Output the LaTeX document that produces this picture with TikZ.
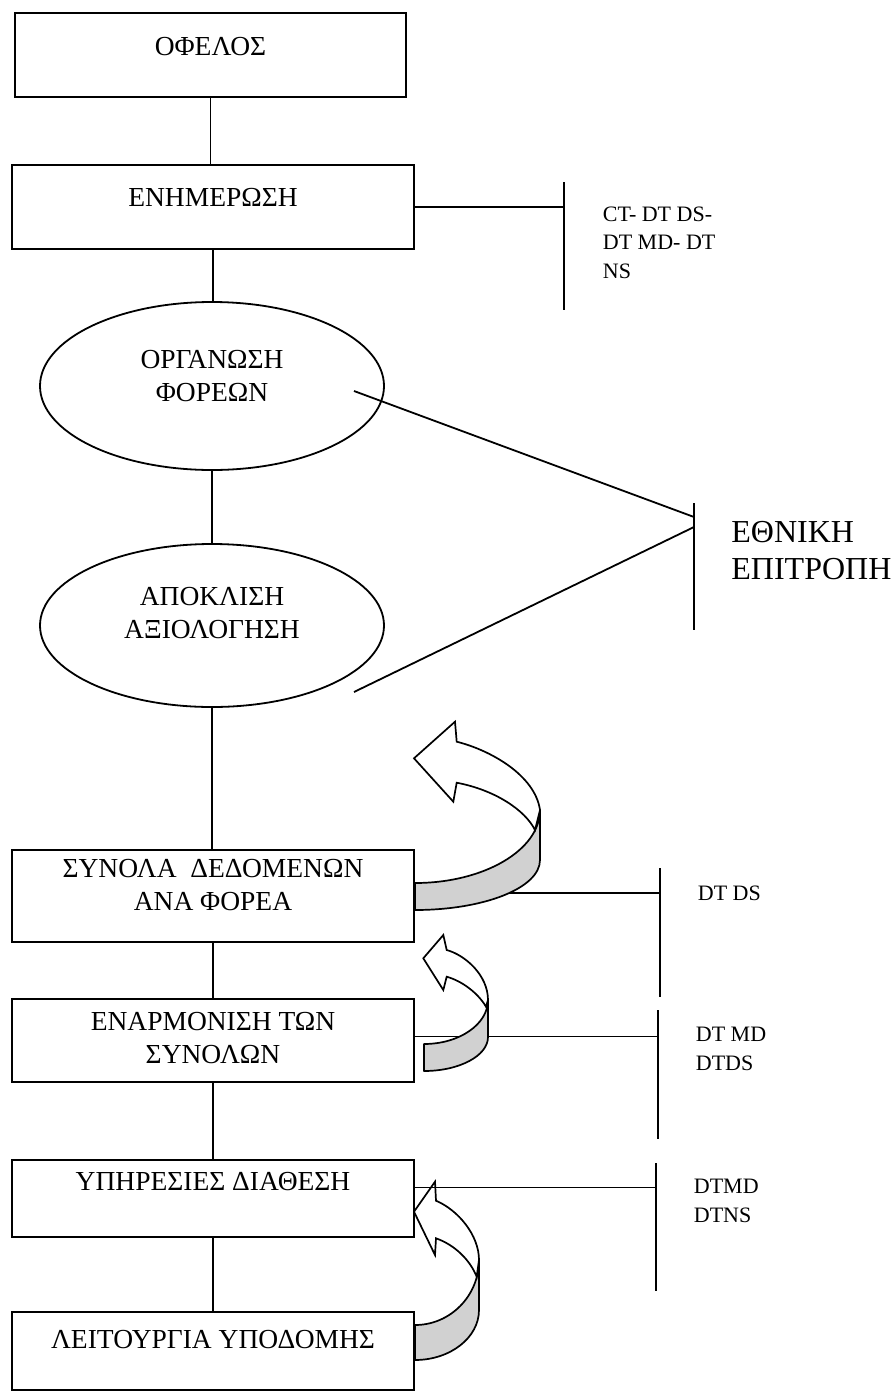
\documentclass[tikz,border=0pt]{standalone}
\usepackage{fontspec}
\setmainfont{Liberation Serif}
\usetikzlibrary{shapes.geometric}
\begin{document}
\begin{tikzpicture}[x=1pt,y=-1pt,
  line width=1.8pt,
  frame/.style={draw, rectangle, inner sep=0pt, minimum width=402},
  oval/.style={draw, ellipse, inner sep=0pt, minimum width=344},
  big/.style={font=\fontsize{27.5}{33}\selectfont, align=center, inner sep=0pt},
  small/.style={font=\fontsize{22}{28.5}\selectfont, align=left, inner sep=0pt, anchor=west},
  large/.style={font=\fontsize{32}{37}\selectfont, align=left, inner sep=0pt, anchor=west},
  band/.style={draw, fill=black!18, line width=1.7pt, line join=round},
  head/.style={draw, fill=white, line width=1.7pt, line join=miter}]
\useasboundingbox (0,0) rectangle (895,1392);

% main column
\node[frame, minimum width=391, minimum height=84] (b1) at (210.5,55) {};
\node[frame, minimum height=84] (b2) at (213,207) {};
\node[oval, minimum height=168] (e1) at (212,386) {};
\node[oval, minimum height=163] (e2) at (212,625.5) {};
\node[frame, minimum height=92] (b3) at (213,896) {};
\node[frame, minimum height=83] (b4) at (213,1040.5) {};
\node[frame, minimum height=77] (b5) at (213,1198.5) {};
\node[frame, minimum height=78] (b6) at (213,1351) {};

\node[big] (t1) at (210.5,47) {ΟΦΕΛΟΣ};
\node[big] (t2) at (213,197) {ΕΝΗΜΕΡΩΣΗ};
\node[big] (t3) at (212,376) {ΟΡΓΑΝΩΣΗ\\ΦΟΡΕΩΝ};
\node[big] (t4) at (212,613.5) {ΑΠΟΚΛΙΣΗ\\ΑΞΙΟΛΟΓΗΣΗ};
\node[big] (t5) at (213,885) {ΣΥΝΟΛΑ \ ΔΕΔΟΜΕΝΩΝ\\ΑΝΑ ΦΟΡΕΑ};
\node[big] (t6) at (213,1038) {ΕΝΑΡΜΟΝΙΣΗ ΤΩΝ\\ΣΥΝΟΛΩΝ};
\node[big] (t7) at (213,1182) {ΥΠΗΡΕΣΙΕΣ ΔΙΑΘΕΣΗ};
\node[big] (t8) at (213,1340) {ΛΕΙΤΟΥΡΓΙΑ ΥΠΟΔΟΜΗΣ};

\draw (b1.south) -- (b1.south |- b2.north);
\draw (b2.south) -- (b2.south |- e1.north);
\draw (e1.south) -- (e1.south |- e2.north);
\draw (e2.south) -- (e2.south |- b3.north);
\draw (b3.south) -- (b3.south |- b4.north);
\draw (b4.south) -- (b4.south |- b5.north);
\draw (b5.south) -- (b5.south |- b6.north);

% side brackets and their labels
\coordinate (r1) at (564,207);
\coordinate (r1t) at (564,182);
\coordinate (r1b) at (564,310);
\draw (b2.east) -- (r1);
\draw (r1t) -- (r1b);
\node[small] (l1) at (602,242.5) {CT- DT DS-\\DT MD- DT\\NS};

\coordinate (p1) at (354,391);
\coordinate (p2) at (354,692);
\coordinate (q1) at (694,517);
\coordinate (q2) at (694,527);
\coordinate (qt) at (694,503);
\coordinate (qb) at (694,630);
\draw (p1) -- (q1);
\draw (p2) -- (q2);
\draw (qt) -- (qb);
\node[large] (l2) at (730.5,550.5) {ΕΘΝΙΚΗ\\ΕΠΙΤΡΟΠΗ};

\coordinate (r2) at (660,893);
\coordinate (r2t) at (660,868);
\coordinate (r2b) at (660,997);
\draw (b3.east |- r2) -- (r2);
\draw (r2t) -- (r2b);
\node[small] (l3) at (697,893) {DT DS};

\coordinate (r3) at (658,1036.5);
\coordinate (r3t) at (658,1010);
\coordinate (r3b) at (658,1139);
\draw (b4.east |- r3) -- (r3);
\draw (r3t) -- (r3b);
\node[small] (l4) at (695,1049) {DT MD\\DTDS};

\coordinate (r4) at (656,1187.5);
\coordinate (r4t) at (656,1163);
\coordinate (r4b) at (656,1291);
\draw (r4t) -- (r4b);
\node[small] (l5) at (693,1201) {DTMD\\DTNS};

% curved 3-D arrows: shaded underside first, white top with head over it
\draw[band] (415,883) .. controls (484,883) and (540,850) .. (540,810)
  -- (540,860) .. controls (540,888) and (484,910) .. (415,910) -- cycle;
\draw[head] (456.7,741.7) .. controls (490,750) and (535,775) .. (540,810)
  -- (535,830) .. controls (525,810) and (495,790) .. (456.7,782.7)
  -- (453.3,801.7) -- (414,758.3) -- (455,721.7) -- cycle;

\draw[band] (424,1044) .. controls (459.3,1044) and (488,1024.3) .. (488,1000)
  -- (488,1037) .. controls (488,1055.8) and (459.3,1071) .. (424,1071) -- cycle;
\draw[head] (446.7,950) .. controls (465,955) and (488,975) .. (488,1000)
  -- (486,1006.7) .. controls (478,993) and (462,981) .. (446.7,976.7)
  -- (443.3,990) -- (423.3,958.3) -- (443.3,935) -- cycle;

\draw[band] (415,1325) .. controls (450.3,1325) and (479,1295.9) .. (479,1260)
  -- (479,1310) .. controls (479,1337.6) and (450.3,1360) .. (415,1360) -- cycle;
\draw[head] (436,1200.7) .. controls (458,1210) and (479,1235) .. (479,1260)
  -- (476.7,1276.7) .. controls (470,1260) and (455,1245) .. (436,1238.3)
  -- (435,1255) -- (414,1211.7) -- (435,1181.7) -- cycle;

\draw (b5.east |- r4) -- (r4);
\end{tikzpicture}
\end{document}
